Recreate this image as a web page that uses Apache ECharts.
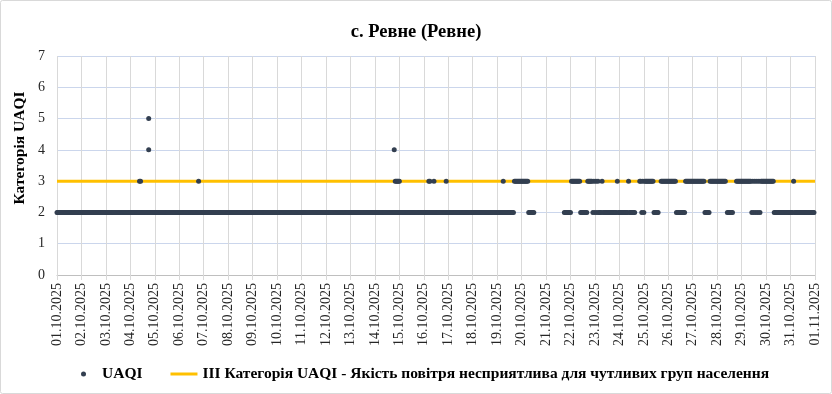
<!DOCTYPE html>
<html>
<head>
<meta charset="utf-8">
<script src="https://cdn.jsdelivr.net/npm/echarts@6/dist/echarts.min.js"></script>
<style>
html,body{margin:0;padding:0;background:#fff;}
#chart{width:832px;height:394px;}
</style>
</head>
<body>
<div id="chart"></div>
<script>
// Tick labels (one per day boundary)
const tickLabels = [
  "01.10.2025","02.10.2025","03.10.2025","04.10.2025","05.10.2025","06.10.2025",
  "07.10.2025","08.10.2025","09.10.2025","10.10.2025","11.10.2025","12.10.2025",
  "13.10.2025","14.10.2025","15.10.2025","16.10.2025","17.10.2025","18.10.2025",
  "19.10.2025","20.10.2025","21.10.2025","22.10.2025","23.10.2025","24.10.2025",
  "25.10.2025","26.10.2025","27.10.2025","28.10.2025","29.10.2025","30.10.2025",
  "31.10.2025","01.11.2025"
];

// Hourly UAQI category per day (24 chars = hours 00..23, "." = no data)
const uaqiOct01_10 = [
  "222222222222222222222222", // 01.10
  "222222222222222222222222", // 02.10
  "222222222222222222222222", // 03.10
  "222222222222222222222222", // 04.10
  "222222222222222222222222", // 05.10
  "222222222222222222222222", // 06.10
  "222222222222222222222222", // 07.10
  "222222222222222222222222", // 08.10
  "222222222222222222222222", // 09.10
  "222222222222222222222222"  // 10.10
];
const uaqiOct11_20 = [
  "222222222222222222222222", // 11.10
  "222222222222222222222222", // 12.10
  "222222222222222222222222", // 13.10
  "222222222222222222222222", // 14.10
  "222222222222222222222222", // 15.10
  "222222222222222222222222", // 16.10
  "222222222222222222222222", // 17.10
  "222222222222222222222222", // 18.10
  "222222222222222223333333", // 19.10
  "3333333222222..........."  // 20.10
];
const uaqiOct21_31 = [
  "..................222222", // 21.10
  "233333333322222223333323", // 22.10
  "232322232222222222222232", // 23.10
  "2222222223222222....3323", // 24.10
  "233333333322222..3333333", // 25.10
  "333333332222222223333333", // 26.10
  "333333333333222223333333", // 27.10
  "333333333.222222...33333", // 28.10
  "333333333323232323233333", // 29.10
  "333333332222222222222222", // 30.10
  "222322222222222222222222"  // 31.10
];
// Additional readings within the same hours as the category-2 readings: [hour from 01.10 00:00, category]
const uaqiExtraReadings = [
  [81, 3], [82, 3], [90, 5], [90, 4], [139, 3],
  [331, 4], [332, 3], [333, 3], [334, 3], [335, 3], [336, 3],
  [365, 3], [366, 3], [370, 3], [382, 3], [438, 3]
];

const allDays = uaqiOct01_10.concat(uaqiOct11_20, uaqiOct21_31);
const uaqiPoints = [];
allDays.forEach(function (s, d) {
  for (let h = 0; h < 24; h++) {
    const c = s.charAt(h);
    if (c !== '.' && c !== '') uaqiPoints.push([d * 24 + h, Number(c)]);
  }
});
uaqiExtraReadings.forEach(function (p) { uaqiPoints.push(p); });

const thresholdValue = 3;
const seriesNames = ["UAQI", "ІІІ Категорія UAQI - Якість повітря несприятлива для чутливих груп населення"];
const titleText = "с. Ревне (Ревне)";
const yAxisTitle = "Категорія UAQI";

const serif = '"Liberation Serif","Times New Roman",serif';
const chart = echarts.init(document.getElementById('chart'));
chart.setOption({
  animation: false,
  backgroundColor: '#fff',
  title: {
    text: titleText, left: 'center', top: 18,
    textStyle: {fontFamily: serif, fontSize: 18.5, fontWeight: 'bold', color: '#000'}
  },
  graphic: [
    {
      type: 'rect', silent: true, z: -1,
      shape: {x: 0.5, y: 0.5, width: 831, height: 393, r: 2},
      style: {fill: 'none', stroke: '#d9d9d9', lineWidth: 1}
    },
    {
      type: 'text', silent: true, x: 20, y: 148, rotation: Math.PI / 2,
      style: {
        text: yAxisTitle, fontFamily: serif, fontSize: 15.5, fontWeight: 'bold',
        fill: '#000', align: 'center', verticalAlign: 'middle'
      }
    }
  ],
  grid: {left: 57, right: 17, top: 56, bottom: 119, containLabel: false},
  legend: {
    bottom: 7, left: 76, itemGap: 28, itemWidth: 27, itemHeight: 5,
    textStyle: {fontFamily: serif, fontSize: 15.5, fontWeight: 'bold', color: '#000'},
    data: [
      {name: seriesNames[0], icon: 'circle'},
      {name: seriesNames[1], icon: 'path://M0,0 L27,0 L27,3 L0,3 Z'}
    ]
  },
  xAxis: {
    type: 'value', min: 0, max: (tickLabels.length - 1) * 24, interval: 24,
    axisLine: {show: true, lineStyle: {color: '#bfbfbf'}},
    axisTick: {show: true, length: 5, lineStyle: {color: '#d9d9d9'}},
    splitLine: {show: true, lineStyle: {color: '#d9d9d9', width: 1}},
    axisLabel: {
      rotate: 90, margin: 8, fontFamily: serif, fontSize: 14, color: '#262626',
      formatter: function (v) { return tickLabels[Math.round(v / 24)] || ''; }
    }
  },
  yAxis: {
    type: 'value', min: 0, max: 7, interval: 1,
    axisLine: {show: false}, axisTick: {show: false},
    splitLine: {lineStyle: {color: '#cbd6ec', width: 1}},
    axisLabel: {fontFamily: serif, fontSize: 14, color: '#262626', margin: 12}
  },
  series: [
    {
      name: seriesNames[0], type: 'scatter', data: uaqiPoints, symbolSize: 5, z: 3,
      itemStyle: {color: '#333f50', opacity: 1}
    },
    {
      name: seriesNames[1], type: 'line', z: 2, symbol: 'none',
      data: [[0, thresholdValue], [(tickLabels.length - 1) * 24, thresholdValue]],
      lineStyle: {color: '#ffc000', width: 3}, itemStyle: {color: '#ffc000'}
    }
  ]
});
</script>
</body>
</html>
